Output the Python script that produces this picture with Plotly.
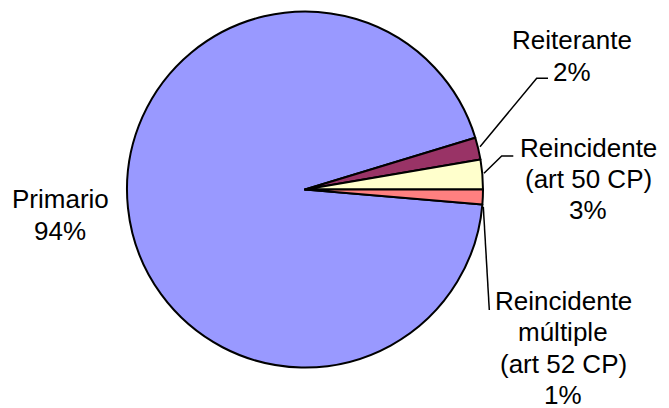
import plotly.graph_objects as go

# ---- data ----
categories = ["Primario", "Reiterante", "Reincidente (art 50 CP)", "Reincidente múltiple (art 52 CP)"]
label_lines = [["Primario"], ["Reiterante"], ["Reincidente", "(art 50 CP)"], ["Reincidente", "múltiple", "(art 52 CP)"]]
values = [93.95, 2.0, 2.7, 1.35]
colors = ["#9999FF", "#993366", "#FFFFCC", "#FF8080"]

W, H = 669, 408
CX, CY, R = 305, 189.5, 178
LINE_H = 31.3
FONT = dict(family="Liberation Sans, Arial", size=26, color="black")

total = sum(values)
pcts = [round(v / total * 100) for v in values]

# rotation so that last slice starts at 3 o'clock going clockwise
rotation = 90 + 360 * values[-1] / total

fig = go.Figure(go.Pie(
    labels=categories,
    values=values,
    sort=False,
    direction="clockwise",
    rotation=rotation,
    marker=dict(colors=colors, line=dict(color="black", width=2)),
    textinfo="none",
    hoverinfo="label+percent",
    domain=dict(x=[(CX - R) / W, (CX + R) / W], y=[1 - (CY + R) / H, 1 - (CY - R) / H]),
    showlegend=False,
))

def px(x):
    return x / W

def py(y):
    return 1 - y / H

# label block centres (pixels)
label_pos = [(60, 215), (572, 56), (588, 179), (563, 348)]
# leader lines (pixels): start on pie edge, elbow, end
leaders = [None,
           [(480, 146.7), (536.7, 78.3), (548, 78.3)],
           [(484, 173.3), (501.7, 156), (513.3, 156)],
           [(483.3, 206.7), (489.3, 310)]]

for lines, p, (x, y), ld in zip(label_lines, pcts, label_pos, leaders):
    all_lines = lines + [f"{p}%"]
    n = len(all_lines)
    for i, t in enumerate(all_lines):
        ly = y + (i - (n - 1) / 2) * LINE_H
        fig.add_annotation(x=px(x), y=py(ly), xref="paper", yref="paper", text=t,
                           showarrow=False, xanchor="center", yanchor="middle",
                           align="center", font=FONT)
    if ld:
        path = "M " + " L ".join(f"{px(a)} {py(b)}" for a, b in ld)
        fig.add_shape(type="path", path=path, xref="paper", yref="paper",
                      line=dict(color="black", width=1.5))

fig.update_layout(width=W, height=H, margin=dict(l=0, r=0, t=0, b=0),
                  paper_bgcolor="white", plot_bgcolor="white")
fig.write_html("out.html", config={"displayModeBar": False},
               post_script="document.body.style.margin='0';document.body.style.overflow='hidden';")
